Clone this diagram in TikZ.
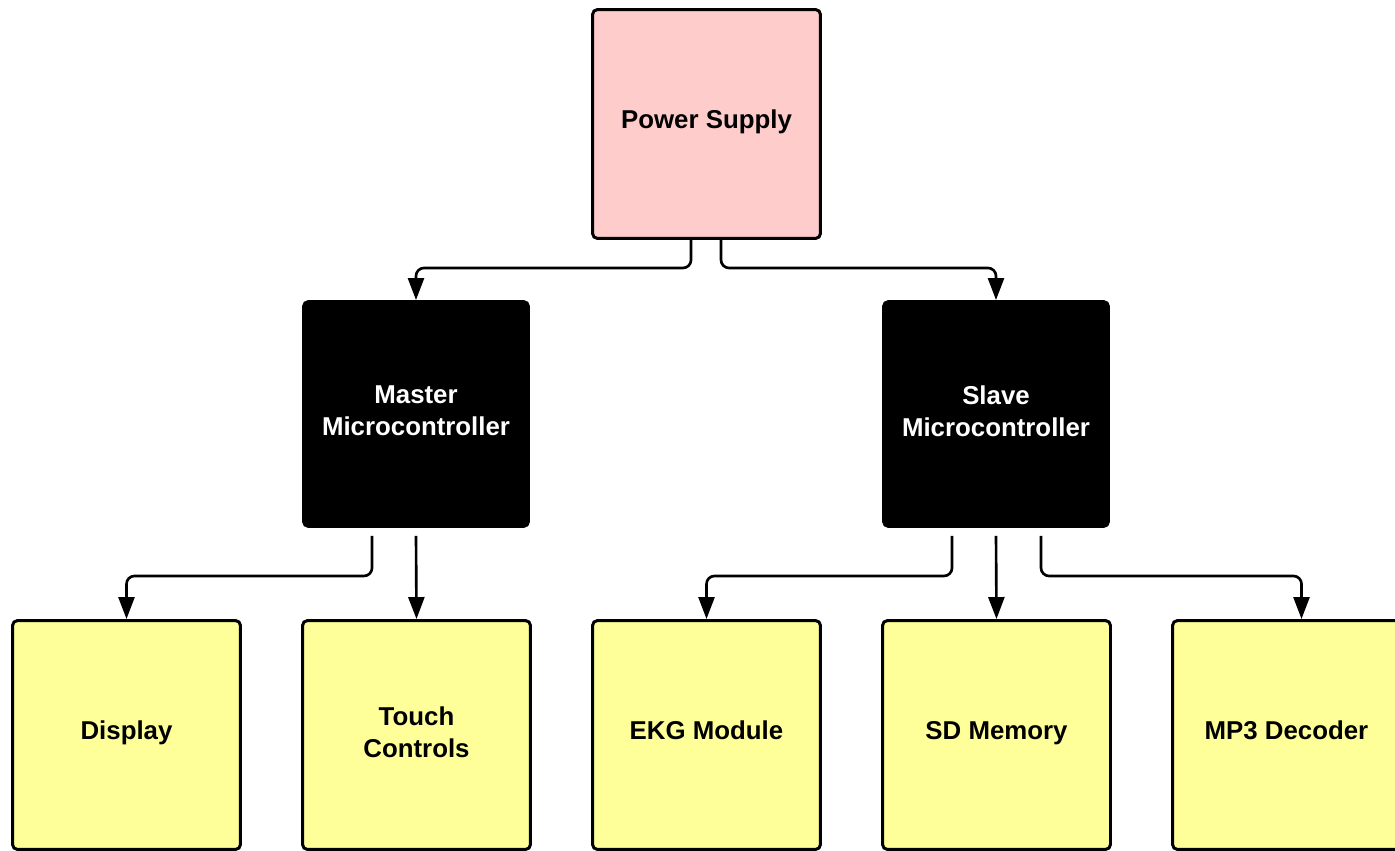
\documentclass[tikz,border=0pt]{standalone}
\usepackage{fontspec}
\setmainfont{Liberation Sans}
\usetikzlibrary{arrows.meta}
\definecolor{supply}{HTML}{FFCCCC}
\definecolor{periph}{HTML}{FFFF99}

\begin{document}
\begin{tikzpicture}[x=0.02cm, y=-0.02cm,
    block/.style={shape=rectangle, draw=black, line width=1.7pt, rounded corners=0.1cm,
      minimum width=4.56cm, minimum height=4.58cm, align=center,
      font=\fontsize{14.7}{18.2}\selectfont\bfseries},
    oneline/.style={text height=0.73em, text depth=0.21em},
    twoline/.style={text depth=0.35em},
    mcu/.style={block, twoline, fill=black, text=white, minimum width=4.5cm, minimum height=4.5cm},
    link/.style={line width=1.5pt, rounded corners=0.16cm,
      -{Triangle[length=0.44cm, width=0.32cm]}}]
    \useasboundingbox (0,0) rectangle (1395,851);

    \node at (706.5, 124) (ps) [block, oneline, fill=supply] {Power Supply};

    \node at (416, 414) (master) [mcu] {Master\\Microcontroller};
    \node at (996, 414) (slave) [mcu] {Slave\\Microcontroller};

    \node at (126.5, 735) (disp) [block, oneline, fill=periph] {Display};
    \node at (416.5, 735) (touch) [block, twoline, fill=periph] {Touch\\Controls};
    \node at (706.5, 735) (ekg) [block, oneline, fill=periph] {EKG Module};
    \node at (996.5, 735) (sd) [block, oneline, fill=periph] {SD Memory};
    \node at (1286.5, 735) (mp3) [block, oneline, fill=periph] {MP3 Decoder};

    % power lines
    \draw[link] ([xshift=-0.31cm]ps.south) -- ++(0,28) -| (master.north);
    \draw[link] ([xshift=0.29cm]ps.south) -- ++(0,28) -| (slave.north);

    % master side
    \draw[link] ([xshift=-0.88cm, yshift=-0.16cm]master.south) -- ++(0,40) -| (disp.north);
    \draw[link] ([yshift=-0.16cm]master.south) -- (touch.north);

    % slave side
    \draw[link] ([xshift=-0.88cm, yshift=-0.16cm]slave.south) -- ++(0,40) -| (ekg.north);
    \draw[link] ([yshift=-0.16cm]slave.south) -- (sd.north);
    \draw[link] ([xshift=0.9cm, yshift=-0.16cm]slave.south) -- ++(0,40) -| ([xshift=0.3cm]mp3.north);
\end{tikzpicture}
\end{document}
